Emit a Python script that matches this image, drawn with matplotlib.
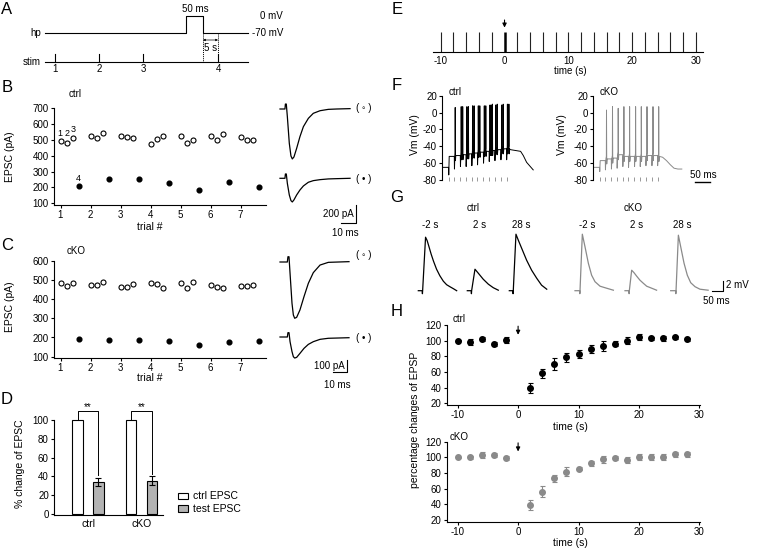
import numpy as np
import matplotlib
matplotlib.use('Agg')
import matplotlib.pyplot as plt
from matplotlib.patches import Rectangle

plt.rcParams['font.family'] = ['Liberation Sans', 'DejaVu Sans']
plt.rcParams.update({'font.size': 7, 'axes.linewidth': 0.8,
                     'axes.unicode_minus': False,
                     'xtick.major.size': 2.2, 'ytick.major.size': 2.2,
                     'xtick.major.width': 0.8, 'ytick.major.width': 0.8,
                     'xtick.labelsize': 7, 'ytick.labelsize': 7,
                     'xtick.major.pad': 1.5, 'ytick.major.pad': 1.5})

# ------------------------------------------------------------------ data
trials = [1, 2, 3, 4, 5, 6, 7]
B_ctrl_open = [[493, 481, 515], [527, 512, 543], [527, 520, 510], [475, 507, 527],
               [527, 484, 500], [527, 497, 535], [520, 502, 497]]
B_ctrl_filled = [212, 256, 254, 228, 186, 237, 203]
C_cko_open = [[485, 470, 482], [473, 473, 489], [465, 461, 478], [485, 478, 459],
              [485, 459, 489], [473, 465, 459], [468, 468, 473]]
C_cko_filled = [194, 189, 185, 182, 159, 176, 180]

# EPSC example traces (ms, pA)
B_tr_t = [0, 3.3, 3.6, 4.2, 4.9, 6.2, 7.3, 8.2, 9.3, 11.1, 13.3, 15.6, 18.9, 22.2, 26.7, 32.2, 37.8, 46.7]
B_tr_open = [0, 0, 55, 55, -85, -381, -522, -555, -533, -437, -307, -196, -104, -48, -19, -4, 0, 4]
B_tr_filled = [0, 0, 48, 48, -56, -185, -248, -263, -240, -185, -130, -85, -44, -26, -15, -7, -4, 0]
C_tr_t = [0, 4.9, 5.3, 6.0, 6.7, 8.0, 8.9, 9.8, 11.1, 13.3, 16.0, 18.9, 22.2, 26.7, 32.2, 46.0]
C_tr_open = [0, 0, 45, 45, -97, -353, -453, -481, -473, -410, -296, -182, -91, -26, -3, 3]
C_tr_filled = [0, 0, 37, 37, -40, -125, -168, -180, -174, -140, -97, -63, -40, -20, -11, -6]

# D bar chart
D_groups = ['ctrl', 'cKO']
D_ctrl_epsc = [100, 100]
D_test_epsc = [34, 35.5]
D_test_sem = [4, 4.5]

# E stimulation schedule (s)
E_times = [-10, -8, -6, -4, -2, 0, 2, 4, 6, 8, 10, 12, 14, 16, 18, 20, 22, 24, 26, 28, 30]

# F current-clamp traces (ms, mV)
F_stim_t = [22, 41, 61, 80, 99, 118, 138, 157, 176, 196, 215]
F_rest = -65
F_ctrl_level = [-52, -51, -50, -49, -48, -47, -46, -45, -44, -43, -43]
F_ctrl_dip = [-74, -67, -64, -64, -63, -62, -60, -58, -57, -56, -56]
F_ctrl_spk_t = [44, 64, 69, 83, 88, 102, 107, 121, 126, 141, 146, 160, 164, 168, 179, 184, 199, 204, 218, 223]
F_ctrl_spk_peak = [6, 7, 7, 7, 7, 8, 8, 8, 8, 8, 8, 9, 9, 10, 9, 10, 9, 10, 10, 10]
F_ctrl_tail_t = [228, 262, 271, 282, 304]
F_ctrl_tail_v = [-44, -46, -51, -59, -68]
F_cko_level = [-57, -55, -54, -50, -52, -52, -52, -52, -51, -51, -52]
F_cko_dip = [-70, -68, -67, -66, -64, -65, -64, -64, -63, -63, -63]
F_cko_spk_t = [45, 65, 84, 103, 122, 142, 161, 180, 200, 219]
F_cko_spk_peak = [3, 7, 5, 7, 7, 7, 7, 7, 7, 7]
F_cko_tail_t = [232, 245, 258, 270, 283, 296]
F_cko_tail_v = [-53, -57, -62, -66, -67, -67]

# G EPSP traces (ms, mV)
G_labels = ['-2 s', '2 s', '28 s']
G_ctrl = [
    ([0, 17, 17.6, 18.5, 31, 38, 45, 55, 65, 78, 92, 107, 121, 135, 150, 164],
     [0, 0, -0.6, 0, 10.7, 10.0, 8.9, 7.3, 5.9, 4.3, 3.0, 1.9, 1.2, 0.8, 0.4, 0]),
    ([0, 17, 17.6, 18.5, 32.8, 47, 68, 90, 111, 132.5],
     [0, 0, -0.6, 0, 4.3, 3.5, 2.3, 1.3, 0.6, 0.1]),
    ([0, 15.5, 16.1, 17, 28.5, 38.5, 52.7, 74, 95.4, 117, 138, 160],
     [0, 0, -0.6, 0, 11.3, 10.1, 8.5, 6.1, 4.1, 2.5, 1.1, 0.3]),
]
G_cko = [
    ([0, 20, 20.6, 21.4, 31.3, 42.7, 57, 71, 85.5, 107, 135, 164],
     [0, 0, -0.6, 0, 11.3, 8.8, 5.5, 3.1, 1.8, 0.9, 0.5, 0.1]),
    ([0, 17, 17.6, 18.5, 28.5, 38.5, 50, 64, 78, 92.6, 114, 135],
     [0, 0, -0.6, 0, 4.1, 3.6, 2.9, 2.1, 1.5, 0.9, 0.5, 0.1]),
    ([0, 21.3, 21.9, 22.8, 32.8, 44, 57, 71, 85.5, 104, 125, 160],
     [0, 0, -0.6, 0, 11.1, 8.5, 5.5, 3.1, 1.6, 0.8, 0.3, 0.1]),
]

# H time course
H_time = [-10, -8, -6, -4, -2, 2, 4, 6, 8, 10, 12, 14, 16, 18, 20, 22, 24, 26, 28]
H_ctrl_mean = [100, 98.3, 102, 95.3, 100.9, 39.1, 58.3, 70.2, 78.7, 82.6, 89.4, 93.2, 96.2, 100, 105.1, 103, 103, 104.3, 102]
H_ctrl_sem = [0.8, 3.8, 3, 2.5, 3.5, 6.4, 5.5, 8, 6, 5, 5, 6, 3, 4.5, 4, 2, 3.5, 2, 2]
H_cko_mean = [100, 100, 103, 102.5, 99.6, 39.2, 56.2, 73.2, 81.7, 85.5, 92.3, 97.4, 99.2, 96.6, 100.9, 100, 100, 103.8, 103.8]
H_cko_sem = [0.8, 2, 4, 2.5, 2.5, 6.5, 7, 4.5, 5.5, 2, 3, 4, 3, 4, 4, 4, 4, 3, 3]

CKO_GRAY = '#8a8a8a'
ARROW = dict(arrowstyle='-|>', color='k', lw=0.8, mutation_scale=6, shrinkA=0, shrinkB=0)

# ------------------------------------------------------------------ layout helpers
W, HH = 760, 549
fig = plt.figure(figsize=(7.6, 5.49), dpi=100)


def add_ax(l, t, r, b):
    return fig.add_axes([l / W, 1 - b / HH, (r - l) / W, (b - t) / HH])


def lim_from(a0, a1, p0, d0, p1, d1):
    s = (d1 - d0) / (p1 - p0)
    return (d0 + (a0 - p0) * s, d0 + (a1 - p0) * s)


def cal_ax(box, xcal, ycal):
    l, t, r, b = box
    ax = add_ax(l, t, r, b)
    ax.set_xlim(*lim_from(l, r, *xcal))
    ax.set_ylim(*lim_from(b, t, *ycal))
    ax.patch.set_alpha(0)
    return ax


def trace_ax(box, origin, sx, sy):
    l, t, r, b = box
    ox, oy = origin
    ax = add_ax(l, t, r, b)
    ax.set_xlim((l - ox) / sx, (r - ox) / sx)
    ax.set_ylim((oy - b) / sy, (oy - t) / sy)
    ax.patch.set_alpha(0)
    for s in ax.spines.values():
        s.set_visible(False)
    ax.set_xticks([])
    ax.set_yticks([])
    return ax


def txt(x, y, s, ha='center', va='center', **kw):
    fig.text(x / W, 1 - y / HH, s, ha=ha, va=va, **kw)


def lframe(ax, ytop=None):
    ax.spines['top'].set_visible(False)
    ax.spines['right'].set_visible(False)
    y0 = ax.get_ylim()[0]
    if ytop is not None:
        ax.spines['left'].set_bounds(y0, ytop)


ov = fig.add_axes([0, 0, 1, 1])
ov.set_xlim(0, W)
ov.set_ylim(HH, 0)
ov.axis('off')

# panel letters
for L, x, y in [('A', 7, 10), ('B', 7, 87), ('C', 7, 245), ('D', 7, 400),
                ('E', 397, 9), ('F', 397, 85), ('G', 397, 197), ('H', 397, 312)]:
    txt(x, y, L, fontsize=12)

# ------------------------------------------------------------------ A schematic
kw = dict(color='k', lw=0.8)
ov.plot([45, 186, 186, 203, 203, 248], [33, 33, 16, 16, 33, 33], **kw)
ov.plot([45, 248], [62, 62], **kw)
for x, lab in zip([55, 99, 143, 218], ['1', '2', '3', '4']):
    ov.plot([x, x], [54, 62], **kw)
    txt(x, 69, lab)
ov.plot([203, 203], [34, 62], color='k', lw=0.7, ls=(0, (1, 1)))
ov.plot([218, 218], [34, 54], color='k', lw=0.7, ls=(0, (1, 1)))
ov.annotate('', xy=(203, 40), xytext=(218, 40),
            arrowprops=dict(arrowstyle='<|-|>', lw=0.5, mutation_scale=3, color='k',
                            shrinkA=0, shrinkB=0))
txt(211, 48, '5 s')
txt(195, 9, '50 ms')
txt(283, 16, '0 mV', ha='right')
txt(283, 33, '-70 mV', ha='right')
txt(41, 33, 'hp', ha='right')
txt(41, 62, 'stim', ha='right')

# ------------------------------------------------------------------ B / C scatter
offs = [0, 0.2, 0.4]


def scatter_panel(box, ycal, opens, filled, ymax):
    ax = cal_ax(box, (60.5, 1, 240.5, 7), ycal)
    for i, t in enumerate(trials):
        ax.plot([t + o for o in offs], opens[i], 'o', mfc='white', mec='k', ms=3.6, mew=0.8, clip_on=False)
    ax.plot([t + 0.6 for t in trials], filled, 'o', color='k', ms=3.4, clip_on=False)
    ax.set_xticks(trials)
    ax.set_yticks(list(range(100, ymax + 1, 100)))
    lframe(ax, ymax)
    return ax


axB = scatter_panel((54, 104, 266, 205), (108.3, 700, 203.3, 100), B_ctrl_open, B_ctrl_filled, 700)
txt(75, 94, 'ctrl')
txt(10, 157, 'EPSC (pA)', rotation=90, fontsize=7.5)
txt(150, 227, 'trial #', fontsize=7.5)
for x, y, s in [(60, 133, '1'), (67, 133, '2'), (73, 129, '3'), (78, 178, '4')]:
    txt(x, y, s, fontsize=6.5)

axC = scatter_panel((54, 257, 266, 358), (260.7, 600, 356.7, 100), C_cko_open, C_cko_filled, 600)
txt(76, 251, 'cKO')
txt(10, 307, 'EPSC (pA)', rotation=90, fontsize=7.5)
txt(150, 378, 'trial #', fontsize=7.5)

# EPSC traces
a = trace_ax((276, 98, 356, 165), (280, 109), 1.5, 0.09)
a.plot(B_tr_t, B_tr_open, color='k', lw=0.9)
a = trace_ax((276, 168, 356, 206), (280, 178.3), 1.5, 0.09)
a.plot(B_tr_t, B_tr_filled, color='k', lw=0.9)
a = trace_ax((276, 248, 356, 325), (280, 262), 1.5, 0.117)
a.plot(C_tr_t, C_tr_open, color='k', lw=0.9)
a = trace_ax((276, 328, 356, 362), (280, 337), 1.5, 0.117)
a.plot(C_tr_t, C_tr_filled, color='k', lw=0.9)
for y in (108, 255):
    txt(364, y, '( \u25e6 )')
for y in (179, 338):
    txt(364, y, '( \u2022 )')

# scale bars B and C
ov.plot([341, 356, 356], [222.7, 222.7, 204.7], **kw)
txt(354, 214, '200 pA', ha='right')
txt(345, 233, '10 ms')
ov.plot([333, 347, 347], [371.7, 371.7, 360], **kw)
txt(345, 366, '100 pA', ha='right')
txt(337, 385, '10 ms')

# ------------------------------------------------------------------ D bars
axD = cal_ax((54, 416, 163, 515), (88, 0, 141.5, 1), (420, 100, 514, 0))
gx = np.arange(len(D_groups))
xw = gx - 0.196
xt = gx + 0.196
axD.bar(xw, D_ctrl_epsc, width=0.205, color='white', edgecolor='k', lw=0.8)
axD.bar(xt, D_test_epsc, width=0.205, color='#b3b3b3', edgecolor='k', lw=0.8,
        yerr=D_test_sem, error_kw=dict(elinewidth=0.8, capsize=2, capthick=0.8, ecolor='k'))
for i in range(len(D_groups)):
    top = D_test_epsc[i] + D_test_sem[i] + 3
    axD.plot([xw[i], xw[i], xt[i], xt[i]], [D_ctrl_epsc[i], 110, 110, top], color='k', lw=0.7, clip_on=False)
    axD.text(gx[i], 114, '**', ha='center', va='center', fontsize=7)
axD.set_xticks(gx)
axD.set_xticklabels(D_groups, fontsize=7.5)
axD.tick_params(axis='x', length=0, pad=3)
axD.set_yticks([0, 20, 40, 60, 80, 100])
lframe(axD, 100)
txt(20, 464, '% change of EPSC', rotation=90, fontsize=7.5)
ov.add_patch(Rectangle((178.3, 492.7), 10, 6.3, fc='white', ec='k', lw=0.8))
ov.add_patch(Rectangle((178.3, 505.2), 10, 6.3, fc='#b3b3b3', ec='k', lw=0.8))
txt(193, 496, 'ctrl EPSC', ha='left', fontsize=7.5)
txt(193, 508.5, 'test EPSC', ha='left', fontsize=7.5)

# ------------------------------------------------------------------ E schedule
axE = cal_ax((433, 32, 703, 52), (440.7, -10, 696, 30), (52, 0, 32, 1))
axE.vlines([t for t in E_times if t != 0], 0, 1, color='#222222', lw=0.8)
axE.vlines([0], 0, 1, color='k', lw=1.8)
for s in ['top', 'right', 'left']:
    axE.spines[s].set_visible(False)
axE.set_yticks([])
axE.set_xticks([-10, 0, 10, 20, 30])
axE.tick_params(axis='x', length=0, pad=3)
axE.annotate('', xy=(0, 1.22), xytext=(0, 1.6), annotation_clip=False, arrowprops=ARROW)
txt(570, 71, 'time (s)')


# ------------------------------------------------------------------ F current clamp
def build_vm(rest, stims, levels, dips, spk_t, spk_p, tail_t, tail_v):
    tt, vv = [0.0], [rest]
    prev = rest
    for k, s in enumerate(stims):
        nxt = stims[k + 1] if k + 1 < len(stims) else tail_t[0]
        tt += [s, s + 0.5, s + 2.0]
        vv += [prev, dips[k], levels[k]]
        for ts, pk in zip(spk_t, spk_p):
            if s <= ts < nxt:
                tt += [ts - 0.5, ts, ts + 0.8, ts + 2.0]
                vv += [levels[k] + 3, pk, levels[k] - 6, levels[k]]
        prev = levels[k]
    tt += list(tail_t)
    vv += list(tail_v)
    return tt, vv


def f_axes(x0, color, trace, lx):
    ax = add_ax(x0, 92, x0 + 110, 184)
    oy = 112.56
    ax.set_xlim(0, 110 / 0.3)
    ax.set_ylim((oy - 184) / 0.843, (oy - 92) / 0.843)
    ax.patch.set_alpha(0)
    for s in ['top', 'right', 'bottom']:
        ax.spines[s].set_visible(False)
    ax.spines['left'].set_bounds(-80, 20)
    ax.set_xticks([])
    ax.set_yticks([-80, -60, -40, -20, 0, 20])
    ax.plot(trace[0], trace[1], color=color, lw=0.7)
    ax.vlines(F_stim_t, -81, -77, color='#888888', lw=0.6)
    txt(lx, 135, 'Vm (mV)', rotation=90, fontsize=7.5)
    return ax


f_axes(442, 'k', build_vm(F_rest, F_stim_t, F_ctrl_level, F_ctrl_dip, F_ctrl_spk_t,
                          F_ctrl_spk_peak, F_ctrl_tail_t, F_ctrl_tail_v), 415)
f_axes(593, CKO_GRAY, build_vm(F_rest, F_stim_t, F_cko_level, F_cko_dip, F_cko_spk_t,
                               F_cko_spk_peak, F_cko_tail_t, F_cko_tail_v), 562)
txt(455, 92, 'ctrl')
txt(609, 92, 'cKO')
ov.plot([695, 710], [181.7, 181.7], color='k', lw=1.0)
txt(703, 175, '50 ms')

# ------------------------------------------------------------------ G EPSPs
for starts, traces, color in [([418.3, 467.3, 509.3], G_ctrl, 'k'),
                              ([575, 625, 670.7], G_cko, CKO_GRAY)]:
    for xs, (tt, vv), lab in zip(starts, traces, G_labels):
        a = trace_ax((xs - 3, 228, xs + 45, 296), (xs, 290.7), 0.234, 5.0)
        a.plot(tt, vv, color=color, lw=0.9)
        txt(xs + 12, 225, lab)
txt(473, 208, 'ctrl')
txt(633, 208, 'cKO')
ov.plot([711.7, 723.3, 723.3], [290.7, 290.7, 280.7], **kw)
txt(726, 285, '2 mV', ha='left')
txt(716, 300.7, '50 ms')


# ------------------------------------------------------------------ H time course
def h_panel(box, ycal, mean, sem, color, label, ly):
    ax = cal_ax(box, (457.7, -10, 699.3, 30), ycal)
    ax.errorbar(H_time, mean, yerr=sem, fmt='o', color=color, ms=4, elinewidth=0.8,
                capsize=1.8, capthick=0.8, clip_on=False)
    ax.set_xticks([-10, 0, 10, 20, 30])
    ax.set_yticks([20, 40, 60, 80, 100, 120])
    lframe(ax, 120)
    ax.annotate('', xy=(0, 107.5), xytext=(0, 118.5), annotation_clip=False, arrowprops=ARROW)
    txt(459, ly, label)
    return ax


h_panel((446.7, 321, 700, 405), (325, 120, 403.3, 20), H_ctrl_mean, H_ctrl_sem, 'k', 'ctrl', 319)
txt(570, 427, 'time (s)', fontsize=7.5)
h_panel((446.7, 438, 700, 521.5), (441.7, 120, 520, 20), H_cko_mean, H_cko_sem, CKO_GRAY, 'cKO', 437)
txt(570, 543, 'time (s)', fontsize=7.5)
txt(415, 420, 'percentage changes of EPSP', rotation=90, fontsize=7.5)

fig.savefig('out.png', dpi=100)
